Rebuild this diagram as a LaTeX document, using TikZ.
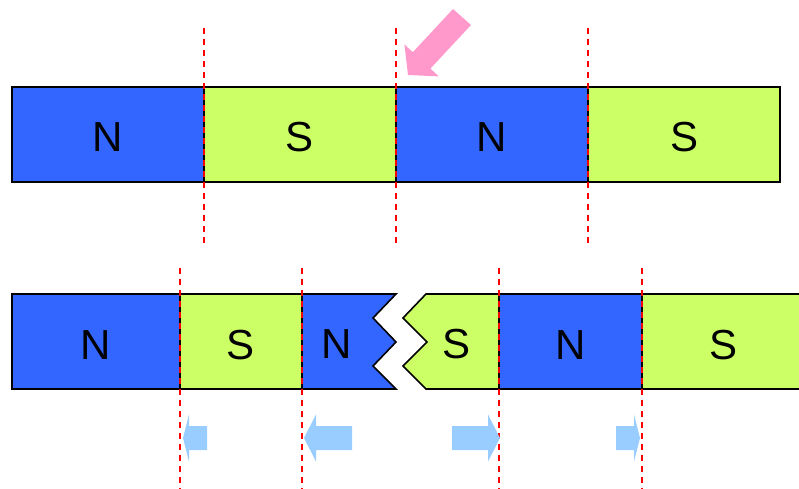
\documentclass[tikz,border=0pt]{standalone}
\usepackage{fontspec}
\setmainfont{Liberation Sans}
\usetikzlibrary{positioning}

\definecolor{nblue}{HTML}{3366FF}
\definecolor{sgreen}{HTML}{CCFF66}
\definecolor{pushpink}{HTML}{FF99CC}
\definecolor{pushblue}{HTML}{99CCFF}

\begin{document}
\begin{tikzpicture}[x=1pt,y=-1pt,
    seg/.style={draw,line width=1.6pt,minimum height=95pt,inner sep=0pt,outer sep=0pt,
                font=\fontsize{42}{42}\selectfont,text height=35pt,text depth=0pt},
    npole/.style={seg,fill=nblue},
    spole/.style={seg,fill=sgreen},
    label/.style={font=\fontsize{42}{42}\selectfont,inner sep=0pt},
    cut/.style={red,line width=1.3pt,dash pattern=on 6pt off 5pt},
  ]
    \clip (0,0) rectangle (799,489);

    % whole magnet
    \node[npole,minimum width=192pt,anchor=north west] (tn1) at (12,87) {N};
    \node[spole,minimum width=192pt,right=0pt of tn1] (ts1) {S};
    \node[npole,minimum width=192pt,right=0pt of ts1] (tn2) {N};
    \node[spole,minimum width=192pt,right=0pt of tn2] (ts2) {S};

    % broken magnet
    \node[npole,minimum width=168pt,anchor=north west] (bn1) at (12,294) {N};
    \node[spole,minimum width=122pt,right=0pt of bn1] (bs1) {S};
    \draw[fill=nblue,line width=1.6pt] (bs1.north east) -- (396,294) -- (373,318) -- (396,342)
      -- (373,366) -- (396,389) -- (bs1.south east) -- cycle;
    \node[label] (bn2) at (337,344) {N};
    \node[npole,minimum width=143pt,anchor=north west] (bn3) at (499,294) {N};
    \node[spole,minimum width=162pt,right=0pt of bn3] (bs3) {S};
    \draw[fill=sgreen,line width=1.6pt] (bn3.north west) -- (426,294) -- (403,318) -- (427,342)
      -- (403,366) -- (426,389) -- (bn3.south west) -- cycle;
    \node[label] (bs2) at (456,344) {S};

    % cutting lines
    \foreach \n in {tn1,ts1,tn2}
      \draw[cut] ([yshift=59pt]\n.north east) -- ([yshift=-63pt]\n.south east);
    \foreach \n/\side in {bn1/east,bs1/east,bn3/west,bn3/east}
      \draw[cut] ([yshift=26pt]\n.north \side) -- ([yshift=-100pt]\n.south \side);

    % pushing arrow
    \fill[pushpink] (408,75) -- (438.8,76.4) -- (430.4,68.6) -- (471,25) -- (453,9)
      -- (412.8,52.2) -- (404.4,44.4) -- cycle;

    % moving apart
    \fill[pushblue] (183,438) -- (189,414.5) -- (189,426) -- (207,426) -- (207,450)
      -- (189,450) -- (189,461.5) -- cycle;
    \fill[pushblue] (304,438) -- (316,414.5) -- (316,426) -- (352,426) -- (352,450)
      -- (316,450) -- (316,461.5) -- cycle;
    \fill[pushblue] (500,438) -- (488,414.5) -- (488,426) -- (452,426) -- (452,450)
      -- (488,450) -- (488,461.5) -- cycle;
    \fill[pushblue] (640,438) -- (634,414.5) -- (634,426) -- (616,426) -- (616,450)
      -- (634,450) -- (634,461.5) -- cycle;
\end{tikzpicture}
\end{document}
